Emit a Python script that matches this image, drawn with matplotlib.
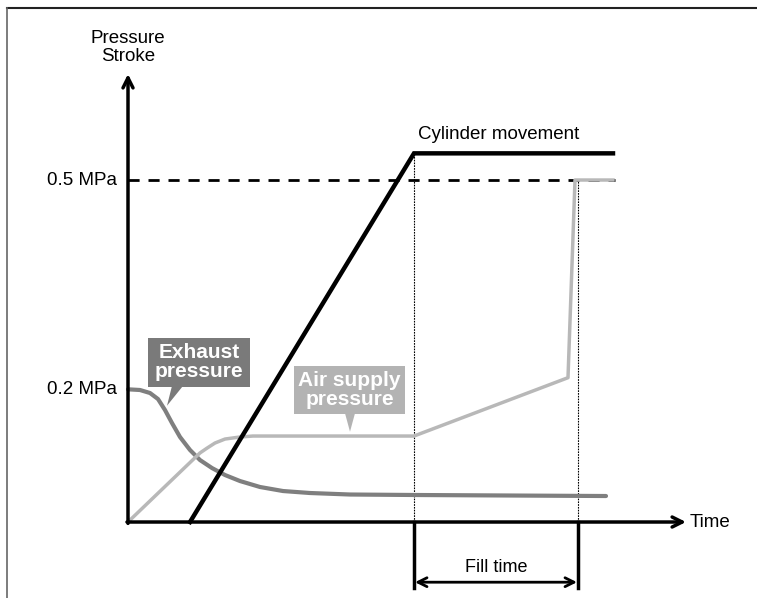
import matplotlib.pyplot as plt
from matplotlib.patches import Rectangle, Polygon

plt.rcParams['font.family'] = ['Liberation Sans', 'DejaVu Sans']

# time axis is arbitrary units, vertical axis in MPa (stroke drawn on same scale)
cyl_t = [6.2, 28.6, 48.5]
cyl_s = [0.0, 0.539, 0.539]

exh_t = [0, 1.2, 2.2, 3.0, 3.7, 4.4, 5.2, 6.2, 7.2, 8.4, 9.7, 11.2, 13.2, 15.5, 18.2, 22.2, 28.6, 47.8]
exh_p = [0.194, 0.193, 0.1886, 0.1798, 0.1637, 0.1447, 0.1243, 0.1053, 0.0906, 0.0789,
         0.0687, 0.0599, 0.0512, 0.0453, 0.0424, 0.0402, 0.0395, 0.038]

air_t = [0, 7.2, 7.9, 8.7, 9.7, 11.2, 12.5, 28.6, 44.0, 44.7, 48.5]
air_p = [0, 0.101, 0.108, 0.1155, 0.1213, 0.1243, 0.1257, 0.1257, 0.211, 0.5, 0.5]

set_p = 0.5
low_p = 0.194
fill_start = 28.6
fill_end = 45.0

fig = plt.figure(figsize=(7.57, 5.98), dpi=100)
ax = fig.add_axes([0, 0, 1, 1])
ax.set_xlim(-12.8, 62.9)
ax.set_ylim(-0.1111, 0.7632)
ax.axis('off')

# frame (top + left only)
ax.plot([-12.1, 62.9], [0.751, 0.751], color='#222222', lw=1.5, clip_on=False)
ax.plot([-12.1, -12.1], [0.751, -0.12], color='#666666', lw=1.2, clip_on=False)

# axes with arrows
ax.annotate('', xy=(0, 0.655), xytext=(0, -0.002),
            arrowprops=dict(arrowstyle='->', lw=2.5, color='black', mutation_scale=18,
                            shrinkA=0, shrinkB=0))
ax.annotate('', xy=(55.8, 0), xytext=(-0.1, 0),
            arrowprops=dict(arrowstyle='->', lw=2.5, color='black', mutation_scale=18,
                            shrinkA=0, shrinkB=0))
ax.text(0, 0.694, 'Pressure\nStroke', ha='center', va='center', fontsize=13.5, linespacing=1.1)
ax.text(56.2, 0, 'Time', ha='left', va='center', fontsize=13.5)

# 0.5 MPa reference
ax.plot([0, 48.7], [set_p, set_p], color='black', lw=2, ls=(0, (4, 3.2)))
ax.text(-1.1, set_p, '0.5 MPa', ha='right', va='center', fontsize=13.5)
ax.text(-1.1, low_p, '0.2 MPa', ha='right', va='center', fontsize=13.5)

# dotted guide lines
ax.plot([fill_start, fill_start], [0, cyl_s[1]], color='black', lw=0.8, ls=(0, (1.5, 1)))
ax.plot([fill_end, fill_end], [0, set_p], color='black', lw=0.8, ls=(0, (1.5, 1)))

# curves
ax.plot(exh_t, exh_p, color='#7f7f7f', lw=3, solid_capstyle='round', solid_joinstyle='round')
ax.plot(air_t, air_p, color='#b8b8b8', lw=2.5, solid_joinstyle='round')
ax.plot(cyl_t, cyl_s, color='black', lw=3.2, solid_joinstyle='miter')
ax.text(37.1, 0.567, 'Cylinder movement', ha='center', va='center', fontsize=13.5)

# fill time marker
for t in (fill_start, fill_end):
    ax.plot([t, t], [0, -0.096], color='black', lw=2.5)
ax.annotate('', xy=(fill_end - 0.1, -0.088), xytext=(fill_start + 0.1, -0.088),
            arrowprops=dict(arrowstyle='<->', lw=2, color='black', mutation_scale=16,
                            shrinkA=0, shrinkB=0))
ax.text((fill_start + fill_end) / 2, -0.067, 'Fill time', ha='center', va='center', fontsize=13)

# callouts
ax.add_patch(Rectangle((2.0, 0.198), 10.2, 0.0716, color='#7a7a7a', lw=0))
ax.add_patch(Polygon([(4.4, 0.199), (5.5, 0.199), (3.9, 0.17)], closed=True, color='#7a7a7a', lw=0))
ax.text(7.1, 0.234, 'Exhaust\npressure', ha='center', va='center', fontsize=15,
        fontweight='bold', color='white', linespacing=0.95)

ax.add_patch(Rectangle((16.6, 0.158), 11.1, 0.0702, color='#b3b3b3', lw=0))
ax.add_patch(Polygon([(21.7, 0.159), (22.7, 0.159), (22.2, 0.132)], closed=True, color='#b3b3b3', lw=0))
ax.text(22.15, 0.193, 'Air supply\npressure', ha='center', va='center', fontsize=15,
        fontweight='bold', color='white', linespacing=0.95)

fig.savefig('out.png', dpi=100)
